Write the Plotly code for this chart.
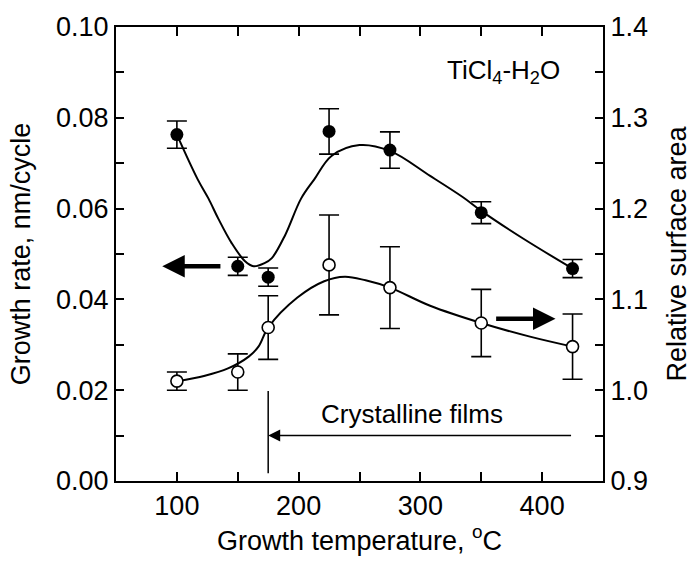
import plotly.graph_objects as go

# Measured ALD growth data for the TiCl4-H2O process
temperature = [100, 150, 175, 225, 275, 350, 425]            # growth temperature, degC
growth_rate = [0.0763, 0.0473, 0.0449, 0.0770, 0.0729, 0.0591, 0.0468]   # nm/cycle
growth_rate_err = [0.0030, 0.0020, 0.0020, 0.0050, 0.0040, 0.0024, 0.0020]
surface_area = [1.010, 1.020, 1.069, 1.138, 1.113, 1.074, 1.048]          # relative
surface_area_err = [0.010, 0.020, 0.035, 0.055, 0.045, 0.037, 0.036]

# Guide-to-the-eye curves
gr_curve_t = [100, 117, 126, 134, 145, 156, 163, 172, 178, 189, 202, 213, 227, 250, 275, 308, 335, 350, 385, 425]
gr_curve_y = [0.0763, 0.0665, 0.0622, 0.0578, 0.0524, 0.0484, 0.0473, 0.0480, 0.0491, 0.0542,
              0.0622, 0.0665, 0.0716, 0.0740, 0.0727, 0.0672, 0.0625, 0.0595, 0.0533, 0.0468]
sa_curve_t = [100, 123, 142, 159, 167, 175, 199, 221, 238, 255, 275, 308, 350, 390, 425]
sa_curve_y = [1.010, 1.016, 1.024, 1.037, 1.048, 1.069, 1.102, 1.120, 1.125, 1.121, 1.113,
              1.093, 1.074, 1.059, 1.048]

# Crystalline-film region marker
crystalline_onset = 175
crystalline_end = 425

FONT = "Liberation Sans, Arial, sans-serif"
FS = 27
FS_NOTE = 26

fig = go.Figure()

fig.add_trace(go.Scatter(
    x=gr_curve_t, y=gr_curve_y, mode="lines",
    line=dict(color="black", width=2, shape="spline", smoothing=1),
    yaxis="y", showlegend=False, hoverinfo="skip"))

fig.add_trace(go.Scatter(
    x=sa_curve_t, y=sa_curve_y, mode="lines",
    line=dict(color="black", width=2, shape="spline", smoothing=1),
    yaxis="y2", showlegend=False, hoverinfo="skip"))

fig.add_trace(go.Scatter(
    x=temperature, y=growth_rate, mode="markers",
    marker=dict(symbol="circle", size=13, color="black"),
    error_y=dict(type="data", array=growth_rate_err, visible=True,
                 color="black", thickness=1.6, width=10),
    yaxis="y", showlegend=False, name="Growth rate"))

fig.add_trace(go.Scatter(
    x=temperature, y=surface_area, mode="markers",
    marker=dict(symbol="circle", size=12, color="white",
                line=dict(color="black", width=1.6)),
    error_y=dict(type="data", array=surface_area_err, visible=True,
                 color="black", thickness=1.6, width=10),
    yaxis="y2", showlegend=False, name="Relative surface area"))

axis_common = dict(
    showline=True, linecolor="black", linewidth=2,
    ticks="inside", tickcolor="black", tickwidth=2,
    showgrid=False, zeroline=False,
    tickfont=dict(family=FONT, size=FS, color="black"),
)

fig.update_layout(
    width=699, height=562,
    margin=dict(l=116, r=93, t=26, b=76),
    paper_bgcolor="white", plot_bgcolor="white",
    font=dict(family=FONT, size=FS, color="black"),
    xaxis=dict(
        range=[50, 450], tick0=0, dtick=100, ticklen=9,
        minor=dict(dtick=50, ticklen=6, tickwidth=2, ticks="inside", tickcolor="black"),
        mirror="allticks",
        title=dict(text="Growth temperature, <sup>o</sup>C",
                   font=dict(family=FONT, size=FS), standoff=10),
        **axis_common),
    yaxis=dict(
        range=[0, 0.10], tick0=0, dtick=0.02, tickformat=".2f", ticklen=8,
        minor=dict(dtick=0.01, ticklen=8, tickwidth=2, ticks="inside", tickcolor="black"),
        title=dict(text="Growth rate, nm/cycle",
                   font=dict(family=FONT, size=FS), standoff=18),
        **axis_common),
    yaxis2=dict(
        range=[0.9, 1.4], tick0=0.9, dtick=0.1, tickformat=".1f", ticklen=8,
        minor=dict(dtick=0.05, ticklen=8, tickwidth=2, ticks="inside", tickcolor="black"),
        overlaying="y", side="right",
        title=dict(text="Relative surface area",
                   font=dict(family=FONT, size=FS), standoff=20),
        **axis_common),
)

# Vertical onset line and arrow spanning the crystalline range
fig.add_shape(type="line", xref="x", yref="y",
              x0=crystalline_onset, x1=crystalline_onset, y0=0.0017, y1=0.0198,
              line=dict(color="black", width=1.5))

fig.add_annotation(x=crystalline_onset, y=0.010, ax=crystalline_end, ay=0.010,
                   xref="x", yref="y", axref="x", ayref="y",
                   text="", showarrow=True, arrowhead=2, arrowsize=1.6,
                   arrowwidth=1.5, arrowcolor="black", standoff=0)

fig.add_annotation(x=293, y=0.0148, xref="x", yref="y", text="Crystalline films",
                   showarrow=False, font=dict(family=FONT, size=FS_NOTE),
                   xanchor="center", yanchor="middle")

fig.add_annotation(x=416, y=0.0901, xref="x", yref="y",
                   text="TiCl<sub>4</sub>-H<sub>2</sub>O",
                   showarrow=False, font=dict(family=FONT, size=FS_NOTE),
                   xanchor="right", yanchor="middle")

# Axis-pointer arrows
fig.add_annotation(x=88, y=0.0473, ax=137, ay=0.0473,
                   xref="x", yref="y", axref="x", ayref="y",
                   text="", showarrow=True, arrowhead=2, arrowsize=1,
                   arrowwidth=4.5, arrowcolor="black", standoff=0)

fig.add_annotation(x=411, y=1.0786, ax=361, ay=1.0786,
                   xref="x", yref="y2", axref="x", ayref="y2",
                   text="", showarrow=True, arrowhead=2, arrowsize=1,
                   arrowwidth=4.5, arrowcolor="black", standoff=0)

fig.write_html("out.html")
